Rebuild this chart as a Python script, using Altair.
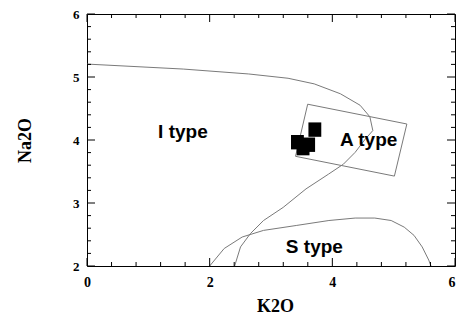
import altair as alt
import pandas as pd

# ---- data ----
# I-type / A-type boundary (path order matters)
ia_k2o = [0.0, 1.569, 2.637, 3.278, 3.704, 4.131, 4.452, 4.612, 4.660, 4.532,
          4.372, 4.180, 3.939, 3.571, 3.198, 2.878, 2.663, 2.503, 2.407]
ia_na2o = [5.205, 5.126, 5.048, 4.980, 4.891, 4.734, 4.552, 4.369, 4.150, 4.008,
           3.804, 3.616, 3.459, 3.224, 2.930, 2.722, 2.513, 2.303, 2.0]

# S-type boundary
s_k2o = [2.0, 2.237, 2.530, 2.878, 3.411, 3.944, 4.372, 4.692, 4.959, 5.172,
         5.332, 5.465, 5.572, 5.609]
s_na2o = [2.0, 2.278, 2.460, 2.565, 2.643, 2.722, 2.761, 2.761, 2.722, 2.617,
          2.486, 2.303, 2.094, 2.0]

# A-type field (rotated rectangle, closed)
box_k2o = [3.598, 5.215, 5.012, 3.400, 3.598]
box_na2o = [4.568, 4.254, 3.427, 3.741, 4.568]

# samples
sample_k2o = [3.715, 3.431, 3.523, 3.614]
sample_na2o = [4.165, 3.965, 3.871, 3.925]

# field labels
label_text = ["I type", "A type", "S type"]
label_k2o = [1.564, 4.592, 3.707]
label_na2o = [4.028, 3.898, 2.199]

# ticks
x_major = [0, 2, 4, 6]
x_minor = [0.4, 0.8, 1.2, 1.6, 2.4, 2.8, 3.2, 3.6, 4.4, 4.8, 5.2, 5.6]
y_major = [2, 3, 4, 5, 6]
y_minor = [2.2, 2.4, 2.6, 2.8, 3.2, 3.4, 3.6, 3.8, 4.2, 4.4, 4.6, 4.8,
           5.2, 5.4, 5.6, 5.8]

# ---- tables ----
ia_df = pd.DataFrame({"k": ia_k2o, "n": ia_na2o, "i": range(len(ia_k2o))})
s_df = pd.DataFrame({"k": s_k2o, "n": s_na2o, "i": range(len(s_k2o))})
box_df = pd.DataFrame({"k": box_k2o, "n": box_na2o, "i": range(len(box_k2o))})
pts_df = pd.DataFrame({"k": sample_k2o, "n": sample_na2o})
lab_df = pd.DataFrame({"k": label_k2o, "n": label_na2o, "t": label_text})

W, H = 368, 252
SERIF = "Liberation Serif"
SANS = "Liberation Sans"
LINE = "#7a7a7a"
MAJ, MIN = 8, 4

xs = alt.Scale(domain=[0, 6], nice=False, zero=False)
ys = alt.Scale(domain=[2, 6], nice=False, zero=False)

ax_x_lab = alt.Axis(orient="bottom", values=x_major, format="d", ticks=False,
                    domain=False, grid=False, labelPadding=9, labelFont=SERIF,
                    labelFontWeight="bold", labelFontSize=14, labelColor="black",
                    labelFlush=False, labelOverlap=False,
                    labelAlign=alt.ExprRef("datum.value == 6 ? 'right' : 'center'"),
                    title="K2O", titleFont=SERIF, titleFontWeight="bold",
                    titleFontSize=18, titleColor="black", titleX=188, titleY=40,
                    titleBaseline="middle")
ax_y_lab = alt.Axis(orient="left", values=y_major, format="d", ticks=False,
                    domain=False, grid=False, labelPadding=8, labelFont=SERIF,
                    labelFontWeight="bold", labelFontSize=13, labelColor="black",
                    labelFlush=False, labelOverlap=False,
                    title="Na2O", titleFont=SERIF, titleFontWeight="bold",
                    titleFontSize=18, titleColor="black", titleX=-62, titleY=H / 2,
                    titleBaseline="middle")


def enc(xaxis=None, yaxis=None):
    return dict(x=alt.X("k:Q", scale=xs, axis=xaxis),
                y=alt.Y("n:Q", scale=ys, axis=yaxis))


ia_line = alt.Chart(ia_df).mark_line(color=LINE, strokeWidth=1).encode(
    order=alt.Order("i:Q"), **enc(ax_x_lab, ax_y_lab))

s_line = alt.Chart(s_df).mark_line(color=LINE, strokeWidth=1).encode(
    order=alt.Order("i:Q"), **enc())

box_line = alt.Chart(box_df).mark_line(color=LINE, strokeWidth=1).encode(
    order=alt.Order("i:Q"), **enc())

pts = alt.Chart(pts_df).mark_point(
    shape="M-1,-1.12L1,-1.12L1,1.12L-1,1.12Z", size=165, filled=True,
    color="black", opacity=1, strokeWidth=0).encode(**enc())

labels = alt.Chart(lab_df).mark_text(
    font=SANS, fontWeight="bold", fontSize=19, color="black",
    align="center", baseline="alphabetic").encode(text="t:N", **enc())


def x_ticks(values, size):
    df = pd.DataFrame({"k": values})
    xe = alt.X("k:Q", scale=xs, axis=None)
    bottom = alt.Chart(df).mark_rule(color="black", strokeWidth=1).encode(
        x=xe, y=alt.value(H), y2=alt.value(H - size))
    top = alt.Chart(df).mark_rule(color="black", strokeWidth=1).encode(
        x=xe, y=alt.value(0), y2=alt.value(size))
    return [bottom, top]


def y_ticks(values, size):
    df = pd.DataFrame({"n": values})
    ye = alt.Y("n:Q", scale=ys, axis=None)
    left = alt.Chart(df).mark_rule(color="black", strokeWidth=1).encode(
        y=ye, x=alt.value(0), x2=alt.value(size))
    right = alt.Chart(df).mark_rule(color="black", strokeWidth=1).encode(
        y=ye, x=alt.value(W), x2=alt.value(W - size))
    return [left, right]


tick_layers = (x_ticks(x_major, MAJ) + x_ticks(x_minor, MIN)
               + y_ticks(y_major, MAJ) + y_ticks(y_minor, MIN))

chart = alt.layer(ia_line, s_line, box_line, pts, labels, *tick_layers).resolve_axis(
    x="independent", y="independent"
).properties(
    width=W, height=H,
    autosize=alt.AutoSizeParams(type="none"),
    padding={"left": 79, "top": 6, "right": 1, "bottom": 50},
    background="white",
).configure_view(stroke="black", strokeWidth=1)

chart.save("out.html", embed_options={"renderer": "svg", "actions": False})
